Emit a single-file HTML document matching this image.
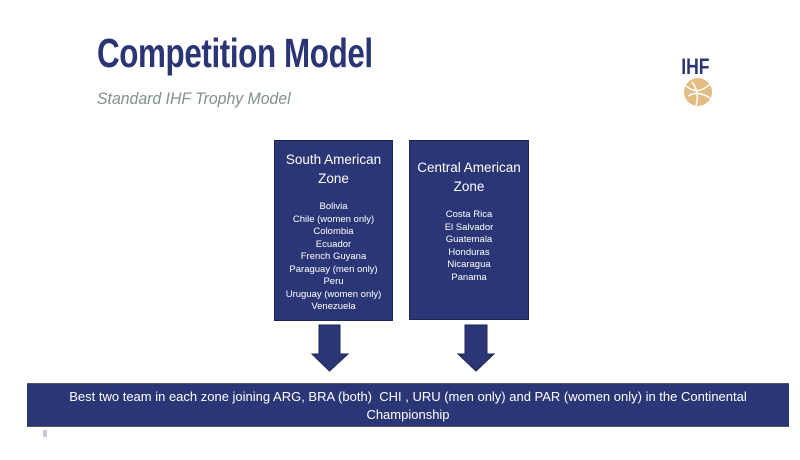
<!DOCTYPE html>
<html><head><style>
body{margin:0;width:800px;height:460px;background:#fff;position:relative;overflow:hidden;font-family:"Liberation Sans",sans-serif}
.t{position:absolute;left:97px;top:30px;font-size:41px;font-weight:bold;color:#2b3576;transform:scaleX(0.765);transform-origin:left top;white-space:nowrap;letter-spacing:-0.5px}
.s{position:absolute;left:97px;top:89px;font-size:17px;font-style:italic;color:#7f918c;transform:scaleX(0.93);transform-origin:left top;white-space:nowrap}
.box{position:absolute;background:#2a3676;color:#fff;text-align:center;border:1px solid #1c2555}
.h{font-size:13.5px;line-height:19px}
.l{font-size:9.5px;line-height:12.5px}
.ban{position:absolute;left:27px;top:383px;width:762px;height:44px;background:#2a3676;border-top:1px solid #555;border-bottom:1px solid #555;color:#fff;text-align:center;font-size:13px;line-height:18px;padding-top:4px;box-sizing:border-box}
</style></head><body>
<div class="t">Competition Model</div>
<div class="s">Standard IHF Trophy Model</div>
<svg style="position:absolute;left:678px;top:52px" width="46" height="62">
<text x="4" y="22" font-family="Liberation Sans" font-weight="bold" font-size="22" fill="#2b3576" transform="scale(0.8,1)">IHF</text>
<circle cx="20" cy="40" r="14" fill="#d9a65a" opacity="0.75"/>
<path d="M8 34 Q20 44 32 32 M10 44 Q20 38 32 46 M14 30 Q22 40 18 54" stroke="#fff" stroke-width="1.5" fill="none"/>
</svg>
<div class="box" style="left:274px;top:140px;width:117px;height:179px">
<div class="h" style="margin-top:9px">South American<br>Zone</div>
<div class="l" style="margin-top:13px">Bolivia<br>Chile (women only)<br>Colombia<br>Ecuador<br>French Guyana<br>Paraguay (men only)<br>Peru<br>Uruguay (women only)<br>Venezuela</div>
</div>
<div class="box" style="left:409px;top:140px;width:118px;height:178px">
<div class="h" style="margin-top:17px">Central American<br>Zone</div>
<div class="l" style="margin-top:13px">Costa Rica<br>El Salvador<br>Guatemala<br>Honduras<br>Nicaragua<br>Panama</div>
</div>
<svg style="position:absolute;left:0;top:0" width="800" height="460">
<polygon points="319,325 340,325 340,354 348,354 329.5,371 312,354 319,354" fill="#2a3676" stroke="#1c2555"/>
<polygon points="465,325 487,325 487,354 494,354 476,371 458,354 465,354" fill="#2a3676" stroke="#1c2555"/>
<line x1="44" y1="430" x2="44" y2="437" stroke="#8a93b8"/><line x1="46" y1="430" x2="46" y2="437" stroke="#8a93b8"/>
</svg>
<div class="ban">Best two team in each zone joining ARG, BRA (both)&nbsp; CHI , URU (men only) and PAR (women only) in the Continental<br>Championship</div>
</body></html>
